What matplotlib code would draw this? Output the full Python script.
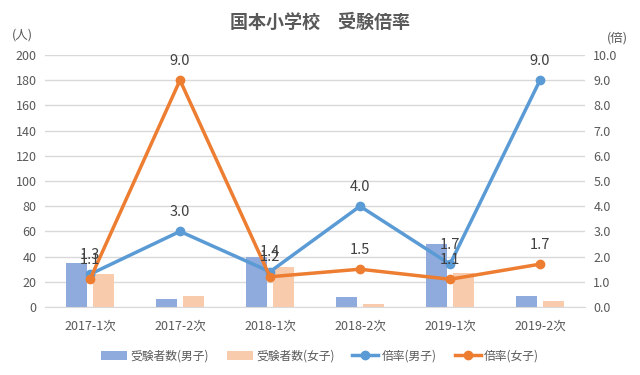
import matplotlib
matplotlib.use("Agg")
import matplotlib.pyplot as plt
import numpy as np

plt.rcParams['font.family'] = ['Noto Sans CJK JP', 'DejaVu Sans']

categories = ["2017-1次", "2017-2次", "2018-1次", "2018-2次", "2019-1次", "2019-2次"]
boys_count = [35, 6, 40, 8, 50, 9]
girls_count = [26, 9, 32, 2, 27, 5]
boys_ratio = [1.3, 3.0, 1.4, 4.0, 1.7, 9.0]
girls_ratio = [1.1, 9.0, 1.2, 1.5, 1.1, 1.7]

c_boys_bar = "#8FAADC"
c_girls_bar = "#F8CBAD"
c_boys_line = "#5B9BD5"
c_girls_line = "#ED7D31"
c_text = "#595959"
c_grid = "#D9D9D9"

fig = plt.figure(figsize=(6.4, 3.75), dpi=100)
ax = fig.add_axes([45/640, 1-307/375, 540/640, 252/375])
ax2 = ax.twinx()

x = np.arange(len(categories))
bw = 0.23
ax.bar(x - 0.15, boys_count, bw, color=c_boys_bar, label="受験者数(男子)", zorder=2)
ax.bar(x + 0.15, girls_count, bw, color=c_girls_bar, label="受験者数(女子)", zorder=2)

l1, = ax2.plot(x, boys_ratio, color=c_boys_line, lw=2.5, marker='o', ms=6, label="倍率(男子)", zorder=3)
l2, = ax2.plot(x, girls_ratio, color=c_girls_line, lw=2.5, marker='o', ms=6, label="倍率(女子)", zorder=3)

for xi, v in zip(x, boys_ratio):
    ax2.annotate(f"{v:.1f}", (xi, v), xytext=(0, 9), textcoords='offset points',
                 ha='center', va='bottom', fontsize=10.5, color="#404040")
for xi, v in zip(x, girls_ratio):
    ax2.annotate(f"{v:.1f}", (xi, v), xytext=(0, 9), textcoords='offset points',
                 ha='center', va='bottom', fontsize=10.5, color="#404040")

ax.set_xlim(-0.5, len(categories) - 0.5)
ax.set_ylim(0, 200)
ax.set_yticks(np.arange(0, 201, 20))
ax2.set_ylim(0, 10)
ax2.set_yticks(np.arange(0, 10.1, 1))
ax2.set_yticklabels([f"{v:.1f}" for v in np.arange(0, 10.1, 1)])

ax.set_xticks(x)
ax.set_xticklabels(categories)
ax.grid(axis='y', color=c_grid, lw=1, zorder=0)
ax.set_axisbelow(True)
for a in (ax, ax2):
    for s in a.spines.values():
        s.set_visible(False)
    a.tick_params(length=0, colors=c_text, labelsize=9)
ax.spines['bottom'].set_visible(True)
ax.spines['bottom'].set_color(c_grid)
ax.tick_params(axis='x', pad=9)
ax.tick_params(axis='y', pad=6)
ax2.tick_params(axis='y', pad=6)

fig.text(0.5, 1-22/375, "国本小学校　受験倍率", ha='center', va='center',
         fontsize=13, fontweight='bold', color=c_text)
fig.text(22/640, 1-35/375, "(人)", ha='center', va='center', fontsize=9, color=c_text)
fig.text(617/640, 1-38/375, "(倍)", ha='center', va='center', fontsize=9, color=c_text)

handles = [ax.containers[0], ax.containers[1], l1, l2]
labels = ["受験者数(男子)", "受験者数(女子)", "倍率(男子)", "倍率(女子)"]
fig.legend(handles, labels, loc='center', bbox_to_anchor=(0.5, 1-356/375), ncol=4,
           frameon=False, fontsize=8.5, labelcolor=c_text, handlelength=2.2,
           handletextpad=0.3, columnspacing=1.5)

fig.savefig("out.png", dpi=100)
